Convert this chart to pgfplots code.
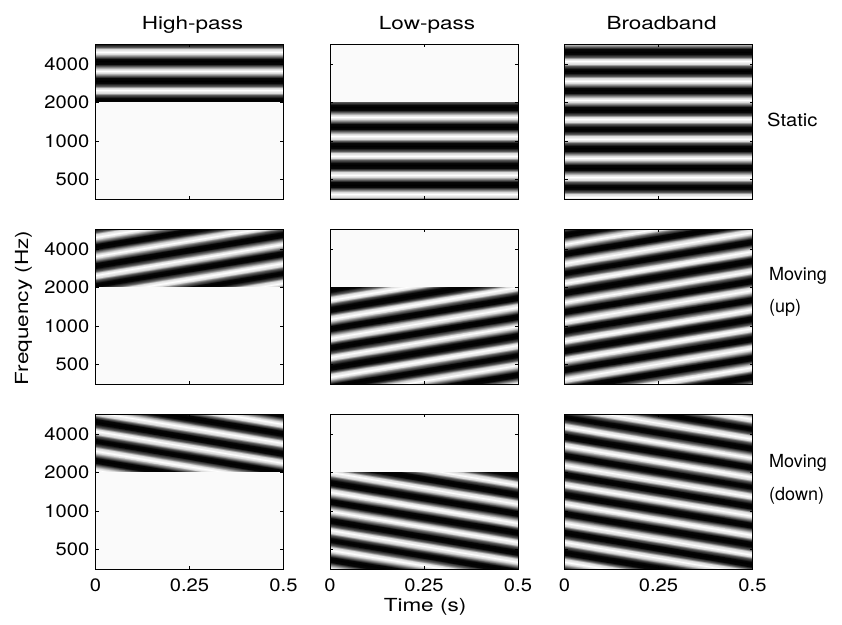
\documentclass[border=0pt]{standalone}
\usepackage{fontspec}
\setmainfont{TeX Gyre Heros}[FakeStretch=1.12]
\newfontfamily\titlefont{TeX Gyre Heros}[FakeStretch=1.25]
\newfontfamily\rowfont{TeX Gyre Heros}
\usepackage{pgfplots}
\usepackage{pgfplotstable}
\pgfplotsset{compat=1.18}
\definecolor{blank}{gray}{0.98}

% ripple rows: t, y static, y moving up, y moving down (octaves above 500 Hz), gray level for 5 phases
\pgfplotstableread{
t ys yu yd m1 m4 m5 m6 m7
0 -1.375 -1.375 -1.375 0.03 0.35 0.85 1 0.85
0.5 -1.375 -0.5625 -2.1875 0.03 0.35 0.85 1 0.85
0 -1.3125 -1.3125 -1.3125 0.35 0.03 0.35 0.85 1
0.5 -1.3125 -0.5 -2.125 0.35 0.03 0.35 0.85 1
0 -1.25 -1.25 -1.25 0.85 0 0.03 0.35 0.85
0.5 -1.25 -0.4375 -2.0625 0.85 0 0.03 0.35 0.85
0 -1.1875 -1.1875 -1.1875 1 0.03 0 0.03 0.35
0.5 -1.1875 -0.375 -2 1 0.03 0 0.03 0.35
0 -1.125 -1.125 -1.125 0.85 0.35 0.03 0 0.03
0.5 -1.125 -0.3125 -1.9375 0.85 0.35 0.03 0 0.03
0 -1.0625 -1.0625 -1.0625 0.35 0.85 0.35 0.03 0
0.5 -1.0625 -0.25 -1.875 0.35 0.85 0.35 0.03 0
0 -1 -1 -1 0.03 1 0.85 0.35 0.03
0.5 -1 -0.1875 -1.8125 0.03 1 0.85 0.35 0.03
0 -0.9375 -0.9375 -0.9375 0 0.85 1 0.85 0.35
0.5 -0.9375 -0.125 -1.75 0 0.85 1 0.85 0.35
0 -0.875 -0.875 -0.875 0.03 0.35 0.85 1 0.85
0.5 -0.875 -0.0625 -1.6875 0.03 0.35 0.85 1 0.85
0 -0.8125 -0.8125 -0.8125 0.35 0.03 0.35 0.85 1
0.5 -0.8125 0 -1.625 0.35 0.03 0.35 0.85 1
0 -0.75 -0.75 -0.75 0.85 0 0.03 0.35 0.85
0.5 -0.75 0.0625 -1.5625 0.85 0 0.03 0.35 0.85
0 -0.6875 -0.6875 -0.6875 1 0.03 0 0.03 0.35
0.5 -0.6875 0.125 -1.5 1 0.03 0 0.03 0.35
0 -0.625 -0.625 -0.625 0.85 0.35 0.03 0 0.03
0.5 -0.625 0.1875 -1.4375 0.85 0.35 0.03 0 0.03
0 -0.5625 -0.5625 -0.5625 0.35 0.85 0.35 0.03 0
0.5 -0.5625 0.25 -1.375 0.35 0.85 0.35 0.03 0
0 -0.5 -0.5 -0.5 0.03 1 0.85 0.35 0.03
0.5 -0.5 0.3125 -1.3125 0.03 1 0.85 0.35 0.03
0 -0.4375 -0.4375 -0.4375 0 0.85 1 0.85 0.35
0.5 -0.4375 0.375 -1.25 0 0.85 1 0.85 0.35
0 -0.375 -0.375 -0.375 0.03 0.35 0.85 1 0.85
0.5 -0.375 0.4375 -1.1875 0.03 0.35 0.85 1 0.85
0 -0.3125 -0.3125 -0.3125 0.35 0.03 0.35 0.85 1
0.5 -0.3125 0.5 -1.125 0.35 0.03 0.35 0.85 1
0 -0.25 -0.25 -0.25 0.85 0 0.03 0.35 0.85
0.5 -0.25 0.5625 -1.0625 0.85 0 0.03 0.35 0.85
0 -0.1875 -0.1875 -0.1875 1 0.03 0 0.03 0.35
0.5 -0.1875 0.625 -1 1 0.03 0 0.03 0.35
0 -0.125 -0.125 -0.125 0.85 0.35 0.03 0 0.03
0.5 -0.125 0.6875 -0.9375 0.85 0.35 0.03 0 0.03
0 -0.0625 -0.0625 -0.0625 0.35 0.85 0.35 0.03 0
0.5 -0.0625 0.75 -0.875 0.35 0.85 0.35 0.03 0
0 0 0 0 0.03 1 0.85 0.35 0.03
0.5 0 0.8125 -0.8125 0.03 1 0.85 0.35 0.03
0 0.0625 0.0625 0.0625 0 0.85 1 0.85 0.35
0.5 0.0625 0.875 -0.75 0 0.85 1 0.85 0.35
0 0.125 0.125 0.125 0.03 0.35 0.85 1 0.85
0.5 0.125 0.9375 -0.6875 0.03 0.35 0.85 1 0.85
0 0.1875 0.1875 0.1875 0.35 0.03 0.35 0.85 1
0.5 0.1875 1 -0.625 0.35 0.03 0.35 0.85 1
0 0.25 0.25 0.25 0.85 0 0.03 0.35 0.85
0.5 0.25 1.0625 -0.5625 0.85 0 0.03 0.35 0.85
0 0.3125 0.3125 0.3125 1 0.03 0 0.03 0.35
0.5 0.3125 1.125 -0.5 1 0.03 0 0.03 0.35
0 0.375 0.375 0.375 0.85 0.35 0.03 0 0.03
0.5 0.375 1.1875 -0.4375 0.85 0.35 0.03 0 0.03
0 0.4375 0.4375 0.4375 0.35 0.85 0.35 0.03 0
0.5 0.4375 1.25 -0.375 0.35 0.85 0.35 0.03 0
0 0.5 0.5 0.5 0.03 1 0.85 0.35 0.03
0.5 0.5 1.3125 -0.3125 0.03 1 0.85 0.35 0.03
0 0.5625 0.5625 0.5625 0 0.85 1 0.85 0.35
0.5 0.5625 1.375 -0.25 0 0.85 1 0.85 0.35
0 0.625 0.625 0.625 0.03 0.35 0.85 1 0.85
0.5 0.625 1.4375 -0.1875 0.03 0.35 0.85 1 0.85
0 0.6875 0.6875 0.6875 0.35 0.03 0.35 0.85 1
0.5 0.6875 1.5 -0.125 0.35 0.03 0.35 0.85 1
0 0.75 0.75 0.75 0.85 0 0.03 0.35 0.85
0.5 0.75 1.5625 -0.0625 0.85 0 0.03 0.35 0.85
0 0.8125 0.8125 0.8125 1 0.03 0 0.03 0.35
0.5 0.8125 1.625 0 1 0.03 0 0.03 0.35
0 0.875 0.875 0.875 0.85 0.35 0.03 0 0.03
0.5 0.875 1.6875 0.0625 0.85 0.35 0.03 0 0.03
0 0.9375 0.9375 0.9375 0.35 0.85 0.35 0.03 0
0.5 0.9375 1.75 0.125 0.35 0.85 0.35 0.03 0
0 1 1 1 0.03 1 0.85 0.35 0.03
0.5 1 1.8125 0.1875 0.03 1 0.85 0.35 0.03
0 1.0625 1.0625 1.0625 0 0.85 1 0.85 0.35
0.5 1.0625 1.875 0.25 0 0.85 1 0.85 0.35
0 1.125 1.125 1.125 0.03 0.35 0.85 1 0.85
0.5 1.125 1.9375 0.3125 0.03 0.35 0.85 1 0.85
0 1.1875 1.1875 1.1875 0.35 0.03 0.35 0.85 1
0.5 1.1875 2 0.375 0.35 0.03 0.35 0.85 1
0 1.25 1.25 1.25 0.85 0 0.03 0.35 0.85
0.5 1.25 2.0625 0.4375 0.85 0 0.03 0.35 0.85
0 1.3125 1.3125 1.3125 1 0.03 0 0.03 0.35
0.5 1.3125 2.125 0.5 1 0.03 0 0.03 0.35
0 1.375 1.375 1.375 0.85 0.35 0.03 0 0.03
0.5 1.375 2.1875 0.5625 0.85 0.35 0.03 0 0.03
0 1.4375 1.4375 1.4375 0.35 0.85 0.35 0.03 0
0.5 1.4375 2.25 0.625 0.35 0.85 0.35 0.03 0
0 1.5 1.5 1.5 0.03 1 0.85 0.35 0.03
0.5 1.5 2.3125 0.6875 0.03 1 0.85 0.35 0.03
0 1.5625 1.5625 1.5625 0 0.85 1 0.85 0.35
0.5 1.5625 2.375 0.75 0 0.85 1 0.85 0.35
0 1.625 1.625 1.625 0.03 0.35 0.85 1 0.85
0.5 1.625 2.4375 0.8125 0.03 0.35 0.85 1 0.85
0 1.6875 1.6875 1.6875 0.35 0.03 0.35 0.85 1
0.5 1.6875 2.5 0.875 0.35 0.03 0.35 0.85 1
0 1.75 1.75 1.75 0.85 0 0.03 0.35 0.85
0.5 1.75 2.5625 0.9375 0.85 0 0.03 0.35 0.85
0 1.8125 1.8125 1.8125 1 0.03 0 0.03 0.35
0.5 1.8125 2.625 1 1 0.03 0 0.03 0.35
0 1.875 1.875 1.875 0.85 0.35 0.03 0 0.03
0.5 1.875 2.6875 1.0625 0.85 0.35 0.03 0 0.03
0 1.9375 1.9375 1.9375 0.35 0.85 0.35 0.03 0
0.5 1.9375 2.75 1.125 0.35 0.85 0.35 0.03 0
0 2 2 2 0.03 1 0.85 0.35 0.03
0.5 2 2.8125 1.1875 0.03 1 0.85 0.35 0.03
0 2.0625 2.0625 2.0625 0 0.85 1 0.85 0.35
0.5 2.0625 2.875 1.25 0 0.85 1 0.85 0.35
0 2.125 2.125 2.125 0.03 0.35 0.85 1 0.85
0.5 2.125 2.9375 1.3125 0.03 0.35 0.85 1 0.85
0 2.1875 2.1875 2.1875 0.35 0.03 0.35 0.85 1
0.5 2.1875 3 1.375 0.35 0.03 0.35 0.85 1
0 2.25 2.25 2.25 0.85 0 0.03 0.35 0.85
0.5 2.25 3.0625 1.4375 0.85 0 0.03 0.35 0.85
0 2.3125 2.3125 2.3125 1 0.03 0 0.03 0.35
0.5 2.3125 3.125 1.5 1 0.03 0 0.03 0.35
0 2.375 2.375 2.375 0.85 0.35 0.03 0 0.03
0.5 2.375 3.1875 1.5625 0.85 0.35 0.03 0 0.03
0 2.4375 2.4375 2.4375 0.35 0.85 0.35 0.03 0
0.5 2.4375 3.25 1.625 0.35 0.85 0.35 0.03 0
0 2.5 2.5 2.5 0.03 1 0.85 0.35 0.03
0.5 2.5 3.3125 1.6875 0.03 1 0.85 0.35 0.03
0 2.5625 2.5625 2.5625 0 0.85 1 0.85 0.35
0.5 2.5625 3.375 1.75 0 0.85 1 0.85 0.35
0 2.625 2.625 2.625 0.03 0.35 0.85 1 0.85
0.5 2.625 3.4375 1.8125 0.03 0.35 0.85 1 0.85
0 2.6875 2.6875 2.6875 0.35 0.03 0.35 0.85 1
0.5 2.6875 3.5 1.875 0.35 0.03 0.35 0.85 1
0 2.75 2.75 2.75 0.85 0 0.03 0.35 0.85
0.5 2.75 3.5625 1.9375 0.85 0 0.03 0.35 0.85
0 2.8125 2.8125 2.8125 1 0.03 0 0.03 0.35
0.5 2.8125 3.625 2 1 0.03 0 0.03 0.35
0 2.875 2.875 2.875 0.85 0.35 0.03 0 0.03
0.5 2.875 3.6875 2.0625 0.85 0.35 0.03 0 0.03
0 2.9375 2.9375 2.9375 0.35 0.85 0.35 0.03 0
0.5 2.9375 3.75 2.125 0.35 0.85 0.35 0.03 0
0 3 3 3 0.03 1 0.85 0.35 0.03
0.5 3 3.8125 2.1875 0.03 1 0.85 0.35 0.03
0 3.0625 3.0625 3.0625 0 0.85 1 0.85 0.35
0.5 3.0625 3.875 2.25 0 0.85 1 0.85 0.35
0 3.125 3.125 3.125 0.03 0.35 0.85 1 0.85
0.5 3.125 3.9375 2.3125 0.03 0.35 0.85 1 0.85
0 3.1875 3.1875 3.1875 0.35 0.03 0.35 0.85 1
0.5 3.1875 4 2.375 0.35 0.03 0.35 0.85 1
0 3.25 3.25 3.25 0.85 0 0.03 0.35 0.85
0.5 3.25 4.0625 2.4375 0.85 0 0.03 0.35 0.85
0 3.3125 3.3125 3.3125 1 0.03 0 0.03 0.35
0.5 3.3125 4.125 2.5 1 0.03 0 0.03 0.35
0 3.375 3.375 3.375 0.85 0.35 0.03 0 0.03
0.5 3.375 4.1875 2.5625 0.85 0.35 0.03 0 0.03
0 3.4375 3.4375 3.4375 0.35 0.85 0.35 0.03 0
0.5 3.4375 4.25 2.625 0.35 0.85 0.35 0.03 0
0 3.5 3.5 3.5 0.03 1 0.85 0.35 0.03
0.5 3.5 4.3125 2.6875 0.03 1 0.85 0.35 0.03
0 3.5625 3.5625 3.5625 0 0.85 1 0.85 0.35
0.5 3.5625 4.375 2.75 0 0.85 1 0.85 0.35
0 3.625 3.625 3.625 0.03 0.35 0.85 1 0.85
0.5 3.625 4.4375 2.8125 0.03 0.35 0.85 1 0.85
0 3.6875 3.6875 3.6875 0.35 0.03 0.35 0.85 1
0.5 3.6875 4.5 2.875 0.35 0.03 0.35 0.85 1
0 3.75 3.75 3.75 0.85 0 0.03 0.35 0.85
0.5 3.75 4.5625 2.9375 0.85 0 0.03 0.35 0.85
0 3.8125 3.8125 3.8125 1 0.03 0 0.03 0.35
0.5 3.8125 4.625 3 1 0.03 0 0.03 0.35
0 3.875 3.875 3.875 0.85 0.35 0.03 0 0.03
0.5 3.875 4.6875 3.0625 0.85 0.35 0.03 0 0.03
0 3.9375 3.9375 3.9375 0.35 0.85 0.35 0.03 0
0.5 3.9375 4.75 3.125 0.35 0.85 0.35 0.03 0
0 4 4 4 0.03 1 0.85 0.35 0.03
0.5 4 4.8125 3.1875 0.03 1 0.85 0.35 0.03
0 4.0625 4.0625 4.0625 0 0.85 1 0.85 0.35
0.5 4.0625 4.875 3.25 0 0.85 1 0.85 0.35
0 4.125 4.125 4.125 0.03 0.35 0.85 1 0.85
0.5 4.125 4.9375 3.3125 0.03 0.35 0.85 1 0.85
0 4.1875 4.1875 4.1875 0.35 0.03 0.35 0.85 1
0.5 4.1875 5 3.375 0.35 0.03 0.35 0.85 1
0 4.25 4.25 4.25 0.85 0 0.03 0.35 0.85
0.5 4.25 5.0625 3.4375 0.85 0 0.03 0.35 0.85
0 4.3125 4.3125 4.3125 1 0.03 0 0.03 0.35
0.5 4.3125 5.125 3.5 1 0.03 0 0.03 0.35
0 4.375 4.375 4.375 0.85 0.35 0.03 0 0.03
0.5 4.375 5.1875 3.5625 0.85 0.35 0.03 0 0.03
0 4.4375 4.4375 4.4375 0.35 0.85 0.35 0.03 0
0.5 4.4375 5.25 3.625 0.35 0.85 0.35 0.03 0
}\rip

\pgfplotsset{
  panel/.style={
    scale only axis, width=188pt, height=154.5pt, anchor=north west,
    xmin=0, xmax=0.5, ymin=-0.5, ymax=3.5,
    xtick={0,0.25,0.5}, ytick={0,1,2,3},
    xticklabels={}, yticklabels={},
    tick align=inside, tick pos=both, major tick length=3pt,
    tick style={black, line width=0.5pt},
    axis line style={black, line width=0.9pt},
    axis on top,
    colormap={bw}{gray(0cm)=(0); gray(1cm)=(1)},
    point meta min=0, point meta max=1,
    title style={font=\titlefont, at={(0.5,1)}, anchor=base, yshift=8.5pt, xshift=3pt},
  },
  leftcol/.style={yticklabels={500,1000,2000,4000}},
  bottomrow/.style={xticklabels={0,0.25,0.5}, xticklabel style={anchor=base, yshift=-22pt}},
  rip/.style={surf, shader=interp, mesh/cols=2, point meta=\thisrow{#1}},
}

\begin{document}
\fontsize{18}{21}\selectfont
\begin{tikzpicture}
\useasboundingbox (0pt,0pt) rectangle (842pt,624pt);

% row 1: static
\begin{axis}[panel, leftcol, at={(95.5pt,579.5pt)}, title={High-pass}]
\addplot[rip=m1] table[x=t, y=ys] {\rip};
\addplot[draw=none, fill=blank] coordinates {(0,-0.6) (0.5,-0.6) (0.5,2) (0,2)};
\end{axis}
\begin{axis}[panel, at={(330pt,579.5pt)}, title={Low-pass}]
\addplot[rip=m6] table[x=t, y=ys] {\rip};
\addplot[draw=none, fill=blank] coordinates {(0,2) (0.5,2) (0.5,3.6) (0,3.6)};
\end{axis}
\begin{axis}[panel, at={(564.5pt,579.5pt)}, title={Broadband}]
\addplot[rip=m5] table[x=t, y=ys] {\rip};
\end{axis}

% row 2: moving up
\begin{axis}[panel, leftcol, at={(95.5pt,394.5pt)}]
\addplot[rip=m1] table[x=t, y=yu] {\rip};
\addplot[draw=none, fill=blank] coordinates {(0,-0.6) (0.5,-0.6) (0.5,2) (0,2)};
\end{axis}
\begin{axis}[panel, at={(330pt,394.5pt)}]
\addplot[rip=m7] table[x=t, y=yu] {\rip};
\addplot[draw=none, fill=blank] coordinates {(0,2) (0.5,2) (0.5,3.6) (0,3.6)};
\end{axis}
\begin{axis}[panel, at={(564.5pt,394.5pt)}]
\addplot[rip=m6] table[x=t, y=yu] {\rip};
\end{axis}

% row 3: moving down
\begin{axis}[panel, leftcol, bottomrow, at={(95.5pt,209.5pt)}]
\addplot[rip=m5] table[x=t, y=yd] {\rip};
\addplot[draw=none, fill=blank] coordinates {(0,-0.6) (0.5,-0.6) (0.5,2) (0,2)};
\end{axis}
\begin{axis}[panel, bottomrow, at={(330pt,209.5pt)}]
\addplot[rip=m4] table[x=t, y=yd] {\rip};
\addplot[draw=none, fill=blank] coordinates {(0,2) (0.5,2) (0.5,3.6) (0,3.6)};
\end{axis}
\begin{axis}[panel, bottomrow, at={(564.5pt,209.5pt)}]
\addplot[rip=m7] table[x=t, y=yd] {\rip};
\end{axis}

\node[anchor=base west, inner sep=0pt] at (767pt,497pt) {Static};
\node[anchor=base west, inner sep=0pt, font=\rowfont] at (769pt,343pt) {Moving};
\node[anchor=base west, inner sep=0pt, font=\rowfont] at (769pt,311pt) {(up)};
\node[anchor=base west, inner sep=0pt, font=\rowfont] at (769pt,157pt) {Moving};
\node[anchor=base west, inner sep=0pt, font=\rowfont] at (769pt,124pt) {(down)};
\node[rotate=90, anchor=base, font=\titlefont] at (28pt,316pt) {Frequency (Hz)};
\node[anchor=base, font=\titlefont] at (425pt,13pt) {Time (s)};
\end{tikzpicture}
\end{document}
